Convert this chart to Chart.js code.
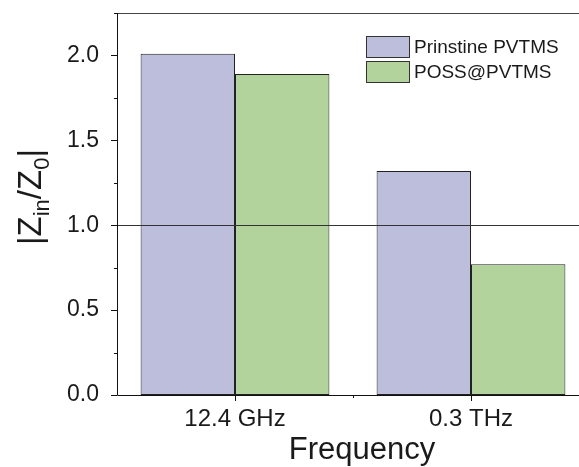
<!DOCTYPE html>
<html>
<head>
<meta charset="utf-8">
<script src="https://cdn.jsdelivr.net/npm/chart.js@4/dist/chart.umd.min.js"></script>
<style>
  html, body { margin: 0; padding: 0; background: #fff; overflow: hidden; }
  #wrap { width: 600px; height: 467px; }
</style>
</head>
<body>
<div id="wrap"><canvas id="zChart" width="600" height="467"></canvas></div>
<script>
const frequencies = ['12.4 GHz', '0.3 THz'];
const prinstine = [2.01, 1.32];
const possPvtms = [1.89, 0.77];
const seriesNames = ['Prinstine PVTMS', 'POSS@PVTMS'];
const seriesColors = ['#bcbedc', '#b2d39c'];
const refLevel = 1.0;

const FONT = '"Liberation Sans", Arial, sans-serif';
const INK = '#1a1a1a';

// axis frame, tick marks, reference line, legend and titles
const framePlugin = {
    id: 'frame',
    afterDatasetsDraw(chart) {
        const { ctx, chartArea: a, scales: { x, y } } = chart;
        ctx.save();
        // reference line at |Zin/Z0| = 1
        const yr = Math.round(y.getPixelForValue(refLevel)) + 0.5;
        ctx.strokeStyle = '#333';
        ctx.lineWidth = 1.2;
        ctx.beginPath();
        ctx.moveTo(a.left - 5, yr);
        ctx.lineTo(a.right, yr);
        ctx.stroke();

        // top border
        ctx.strokeStyle = '#444';
        ctx.lineWidth = 1;
        ctx.beginPath();
        ctx.moveTo(a.left, a.top + 0.5);
        ctx.lineTo(a.right, a.top + 0.5);
        ctx.stroke();

        // left + bottom axis lines
        ctx.strokeStyle = '#111';
        ctx.beginPath();
        ctx.moveTo(a.left + 0.5, a.top);
        ctx.lineTo(a.left + 0.5, a.bottom + 0.5);
        ctx.lineTo(a.right, a.bottom + 0.5);
        ctx.stroke();

        // y ticks: major every 0.5, minor in between
        for (let v = 0; v <= y.max + 1e-9; v += 0.25) {
            const py = Math.round(y.getPixelForValue(v)) + 0.5;
            const major = Math.abs(v / 0.5 - Math.round(v / 0.5)) < 1e-6;
            ctx.beginPath();
            ctx.moveTo(a.left, py);
            ctx.lineTo(a.left - (major ? 6 : 3), py);
            ctx.stroke();
        }
        // x ticks: major at categories, minor at boundaries
        frequencies.forEach((f, i) => {
            const px = Math.round(x.getPixelForValue(i)) + 0.5;
            ctx.beginPath();
            ctx.moveTo(px, a.bottom);
            ctx.lineTo(px, a.bottom + 6);
            ctx.stroke();
            if (i > 0) {
                const pm = Math.round((x.getPixelForValue(i - 1) + x.getPixelForValue(i)) / 2) + 0.5;
                ctx.beginPath();
                ctx.moveTo(pm, a.bottom);
                ctx.lineTo(pm, a.bottom + 3);
                ctx.stroke();
            }
        });

        // legend
        const lx = 366, ly = 36, bw = 43, bh = 21, gap = 25;
        ctx.font = '19px ' + FONT;
        ctx.textBaseline = 'middle';
        ctx.textAlign = 'left';
        chart.data.datasets.forEach((ds, i) => {
            const by = ly + i * gap;
            ctx.fillStyle = ds.backgroundColor;
            ctx.fillRect(lx, by, bw, bh);
            ctx.strokeStyle = '#333';
            ctx.strokeRect(lx + 0.5, by + 0.5, bw, bh);
            ctx.fillStyle = INK;
            ctx.fillText(ds.label, lx + bw + 5, by + bh / 2 + 1);
        });

        // x title
        ctx.font = '31px ' + FONT;
        ctx.textAlign = 'center';
        ctx.textBaseline = 'alphabetic';
        ctx.fillText('Frequency', 362, 459);

        // y title |Zin/Z0| with subscripts
        ctx.translate(41, 197);
        ctx.rotate(-Math.PI / 2);
        const parts = [['|', 33, 0], ['Z', 33, 0], ['in', 22, 8], ['/Z', 33, 0], ['0', 22, 8], ['|', 33, 0]];
        let total = 0;
        parts.forEach(p => { ctx.font = p[1] + 'px ' + FONT; total += ctx.measureText(p[0]).width; });
        let cx = -total / 2;
        ctx.textAlign = 'left';
        parts.forEach(p => {
            ctx.font = p[1] + 'px ' + FONT;
            ctx.fillText(p[0], cx, p[2]);
            cx += ctx.measureText(p[0]).width;
        });
        ctx.restore();
    }
};

new Chart(document.getElementById('zChart'), {
    type: 'bar',
    data: {
        labels: frequencies,
        datasets: [
            { label: seriesNames[0], data: prinstine, backgroundColor: seriesColors[0] },
            { label: seriesNames[1], data: possPvtms, backgroundColor: seriesColors[1] }
        ]
    },
    options: {
        responsive: false,
        animation: false,
        layout: { padding: { top: 13, right: 11, left: 0, bottom: 0 } },
        datasets: {
            bar: {
                categoryPercentage: 0.8,
                barPercentage: 1.0,
                borderColor: '#222',
                borderWidth: 1,
                borderSkipped: false
            }
        },
        plugins: {
            legend: { display: false },
            tooltip: { enabled: false }
        },
        scales: {
            x: {
                offset: true,
                grid: { display: false },
                border: { display: false },
                ticks: { color: INK, font: { family: FONT, size: 24 }, padding: 2 },
                afterFit(scale) {
                    scale.height = 72;
                    scale.paddingLeft = 0;
                    scale.paddingRight = 0;
                }
            },
            y: {
                min: 0,
                max: 2.25,
                grid: { display: false },
                border: { display: false },
                ticks: {
                    stepSize: 0.5,
                    includeBounds: false,
                    color: INK,
                    font: { family: FONT, size: 23 },
                    padding: 10,
                    callback: v => v.toFixed(1)
                },
                afterFit(scale) {
                    scale.width = 117;
                    scale.paddingTop = 0;
                    scale.paddingBottom = 0;
                }
            }
        }
    },
    plugins: [framePlugin]
});
</script>
</body>
</html>
